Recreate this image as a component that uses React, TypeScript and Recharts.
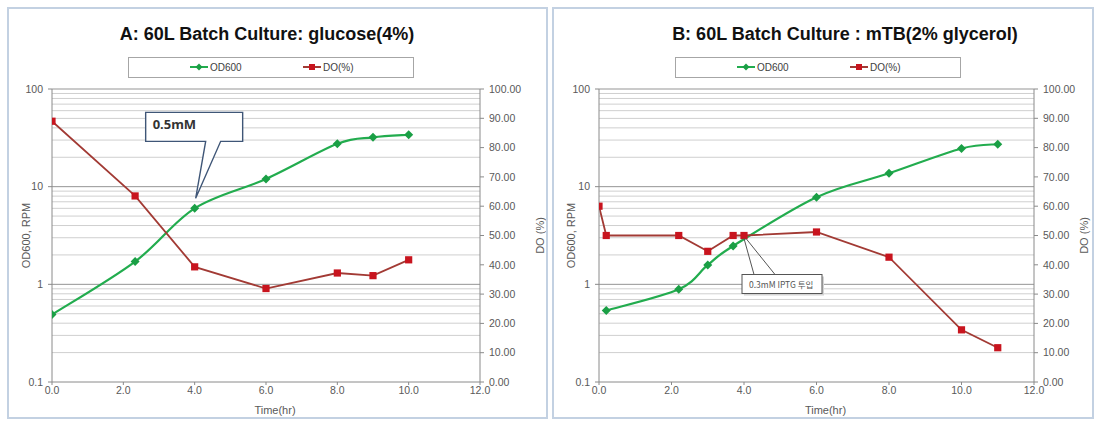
import React from 'react';
import { LineChart, Line, XAxis, YAxis, ReferenceLine, ReferenceDot } from 'recharts';

// shared axis ticks
const timeTicks = [0, 2, 4, 6, 8, 10, 12];
const odTicks = [0.1, 1, 10, 100];
const doTicks = [0, 10, 20, 30, 40, 50, 60, 70, 80, 90, 100];
const odMajorLines = [1, 10, 100];
const odMinorLines = [0.2, 0.3, 0.4, 0.5, 0.6, 0.7, 0.8, 0.9, 2, 3, 4, 5, 6, 7, 8, 9, 20, 30, 40, 50, 60, 70, 80, 90];

// A: glucose(4%)
const hoursA = [0, 2.33, 4, 6, 8, 9, 10];
const odA = [0.49, 1.71, 6.0, 12.0, 27.5, 32, 34];
const doA = [89, 63.5, 39.3, 31.9, 37.2, 36.3, 41.7];

// B: mTB(2% glycerol)
const odHoursB = [0.2, 2.2, 3.0, 3.7, 6.0, 8.0, 10.0, 11.0];
const odB = [0.54, 0.89, 1.58, 2.47, 7.8, 13.7, 24.6, 27.2];
const doHoursB = [0, 0.2, 2.2, 3.0, 3.7, 4.0, 6.0, 8.0, 10.0, 11.0];
const doB = [60, 50, 50, 44.6, 50, 50, 51.2, 42.6, 17.8, 11.7];

const GREEN = '#22ac4e';
const GREEN_DOT = '#1a9f45';
const RED = '#a23a34';
const RED_DOT = '#c8141e';
const AXIS = '#8a8a8a';
const TICK = '#595959';
const FONT = '"Liberation Sans", Arial, sans-serif';

const toSeries = (hours: number[], values: number[]) => hours.map((t, i) => ({ t, v: values[i] }));

// Catmull-Rom style smoothing (spreadsheet "smoothed line"), as a d3 curve factory
const smoothCurve = (context: any) => {
  let pts: [number, number][] = [];
  return {
    areaStart() {},
    areaEnd() {},
    lineStart() { pts = []; },
    point(x: number, y: number) { pts.push([+x, +y]); },
    lineEnd() {
      if (!pts.length) return;
      context.moveTo(pts[0][0], pts[0][1]);
      for (let i = 0; i < pts.length - 1; i++) {
        const p0 = pts[i - 1] || pts[i];
        const p1 = pts[i];
        const p2 = pts[i + 1];
        const p3 = pts[i + 2] || p2;
        context.bezierCurveTo(
          p1[0] + (p2[0] - p0[0]) / 6, p1[1] + (p2[1] - p0[1]) / 6,
          p2[0] - (p3[0] - p1[0]) / 6, p2[1] - (p3[1] - p1[1]) / 6,
          p2[0], p2[1],
        );
      }
    },
  };
};

const DiamondDot = (props: any) => {
  const { cx, cy, index } = props;
  if (cx == null || cy == null) return <g key={`d-${index}`} />;
  const r = 4.5;
  return (
    <path
      key={`d-${index}`}
      d={`M${cx},${cy - r}L${cx + r},${cy}L${cx},${cy + r}L${cx - r},${cy}Z`}
      fill={GREEN_DOT}
    />
  );
};

const SquareDot = (props: any) => {
  const { cx, cy, index } = props;
  if (cx == null || cy == null) return <g key={`s-${index}`} />;
  const h = 3.6;
  return <rect key={`s-${index}`} x={cx - h} y={cy - h} width={h * 2} height={h * 2} fill={RED_DOT} />;
};

const AxisTitle = (props: any) => {
  const { viewBox, text, mode, dx = 0, dy = 0 } = props;
  if (!viewBox) return null;
  const { x, y, width, height } = viewBox;
  if (mode === 'x') {
    return (
      <text x={x + width / 2 + dx} y={y + dy} textAnchor="middle" dominantBaseline="central"
        fontSize={11} fill={TICK} fontFamily={FONT}>{text}</text>
    );
  }
  const tx = x + dx;
  const ty = y + height / 2;
  return (
    <text x={tx} y={ty} textAnchor="middle" dominantBaseline="central" fontSize={11} fill={TICK}
      fontFamily={FONT} transform={`rotate(-90, ${tx}, ${ty})`}>{text}</text>
  );
};

// speech-bubble note pointing at the OD reading
const DoseCallout = (props: any) => {
  const { cx, cy } = props;
  if (cx == null || cy == null) return <g />;
  const L = cx - 49, R = cx + 48, T = cy - 96, B = cy - 67;
  const d = `M${L},${T}H${R}V${B}H${cx + 26}L${cx + 1},${cy - 10}L${cx + 11},${B}H${L}Z`;
  return (
    <g>
      <path d={d} fill="#ffffff" stroke="#3f5677" strokeWidth={1.4} />
      <text x={L + 7} y={T + 17} fontSize={13} fontWeight="bold" fill="#333"
        fontFamily='"Noto Sans", sans-serif'>0.5mM</text>
    </g>
  );
};

// IPTG induction note under the DO point
const IptgCallout = (props: any) => {
  const { cx, cy } = props;
  if (cx == null || cy == null) return <g />;
  const L = cx - 2, T = cy + 39, W = 80, H = 19;
  return (
    <g>
      <line x1={cx} y1={cy + 3} x2={cx + 10} y2={T} stroke="#555" strokeWidth={1} />
      <line x1={cx + 2} y1={cy + 3} x2={cx + 31} y2={T} stroke="#555" strokeWidth={1} />
      <rect x={L + 2} y={T + 2} width={W} height={H} fill="#d4d4d4" />
      <rect x={L} y={T} width={W} height={H} fill="#ffffff" stroke="#555" strokeWidth={1} />
      <text x={L + 7} y={T + 13} fontSize={8.5} fill="#555"
        fontFamily='"Noto Sans CJK KR", "Noto Sans", sans-serif'>0.3mM IPTG 투입</text>
    </g>
  );
};

const LegendBox = ({ left }: { left: number }) => (
  <div style={{
    position: 'absolute', left, top: 48, width: 286, height: 21, border: '1px solid #a6a6a6',
    boxSizing: 'border-box', background: '#fff', fontFamily: FONT, fontSize: 10, color: '#404040',
  }}>
    <div style={{ position: 'absolute', left: 60, top: 3, display: 'flex', alignItems: 'center' }}>
      <svg width={20} height={12}>
        <line x1={1} y1={6} x2={19} y2={6} stroke={GREEN} strokeWidth={2} />
        <path d="M10,2.5L13.5,6L10,9.5L6.5,6Z" fill={GREEN_DOT} />
      </svg>
      <span style={{ marginLeft: 1 }}>OD600</span>
    </div>
    <div style={{ position: 'absolute', left: 173, top: 3, display: 'flex', alignItems: 'center' }}>
      <svg width={20} height={12}>
        <line x1={1} y1={6} x2={19} y2={6} stroke={RED} strokeWidth={2} />
        <rect x={7} y={3} width={6} height={6} fill={RED_DOT} />
      </svg>
      <span style={{ marginLeft: 1 }}>DO(%)</span>
    </div>
  </div>
);

interface PanelProps {
  left: number;
  width: number;
  title: string;
  titleCenter: number;
  yLeftWidth: number;
  yRightWidth: number;
  doTitleDx: number;
  xTitleDx: number;
  legendLeft: number;
  odData: { t: number; v: number }[];
  doData: { t: number; v: number }[];
  callout: React.ReactNode;
}

const Panel = (p: PanelProps) => {
  const inner = p.width - 4;
  return (
    <div style={{
      position: 'absolute', left: p.left, top: 7, width: p.width, height: 412,
      border: '2px solid #c3d1e2', boxSizing: 'border-box', background: '#fff',
    }}>
      <div style={{
        position: 'absolute', left: p.titleCenter - 250, width: 500, top: 13, textAlign: 'center',
        fontFamily: FONT, fontWeight: 'bold', fontSize: 18, color: '#111', lineHeight: '24px',
      }}>{p.title}</div>
      <LegendBox left={p.legendLeft} />
      <div style={{ position: 'absolute', left: 0, top: 0 }}>
        <LineChart width={inner} height={408} margin={{ top: 80, right: 0, bottom: 0, left: 0 }}>
          <XAxis dataKey="t" type="number" domain={[0, 12]} ticks={timeTicks} allowDataOverflow
            tickFormatter={(v: number) => v.toFixed(1)} height={35}
            axisLine={{ stroke: AXIS }} tickLine={{ stroke: AXIS }} tickSize={3} tickMargin={2}
            tick={{ fill: TICK, fontSize: 10.5, fontFamily: FONT }}
            label={<AxisTitle mode="x" text="Time(hr)" dx={p.xTitleDx} dy={28} />} />
          <YAxis yAxisId="od" scale="log" domain={[0.1, 100]} ticks={odTicks} allowDataOverflow
            tickFormatter={(v: number) => String(v)} width={p.yLeftWidth}
            axisLine={{ stroke: AXIS }} tickLine={{ stroke: AXIS }} tickSize={4} tickMargin={5}
            tick={{ fill: TICK, fontSize: 10.5, fontFamily: FONT }}
            label={<AxisTitle mode="y" text="OD600, RPM" dx={17} />} />
          <YAxis yAxisId="do" orientation="right" domain={[0, 100]} ticks={doTicks} allowDataOverflow
            tickFormatter={(v: number) => v.toFixed(2)} width={p.yRightWidth}
            axisLine={{ stroke: AXIS }} tickLine={{ stroke: AXIS }} tickSize={4} tickMargin={5}
            tick={{ fill: TICK, fontSize: 10.5, fontFamily: FONT }}
            label={<AxisTitle mode="y" text="DO (%)" dx={p.doTitleDx} />} />
          {odMinorLines.map((v) => (
            <ReferenceLine key={`mi-${v}`} yAxisId="od" y={v} stroke="#cfcfcf" strokeWidth={1} />
          ))}
          {odMajorLines.map((v) => (
            <ReferenceLine key={`ma-${v}`} yAxisId="od" y={v} stroke="#959595" strokeWidth={1} />
          ))}
          <Line yAxisId="od" data={p.odData} dataKey="v" type={smoothCurve as any} stroke={GREEN} strokeWidth={2.2}
            dot={DiamondDot} activeDot={false} isAnimationActive={false} />
          <Line yAxisId="do" data={p.doData} dataKey="v" type="linear" stroke={RED} strokeWidth={1.8}
            dot={SquareDot} activeDot={false} isAnimationActive={false} />
          {p.callout}
        </LineChart>
      </div>
    </div>
  );
};

export default function App() {
  return (
    <div style={{ position: 'relative', width: 1095, height: 421, background: '#fff', overflow: 'hidden' }}>
      <style>{'body{margin:0}'}</style>
      <Panel
        left={7} width={541}
        title="A: 60L Batch Culture: glucose(4%)" titleCenter={258}
        yLeftWidth={43} yRightWidth={66} doTitleDx={60} xTitleDx={9} legendLeft={119}
        odData={toSeries(hoursA, odA)} doData={toSeries(hoursA, doA)}
        callout={<ReferenceDot yAxisId="od" x={4} y={odA[2]} ifOverflow="visible" shape={DoseCallout} />}
      />
      <Panel
        left={552} width={542}
        title="B: 60L Batch Culture : mTB(2% glycerol)" titleCenter={291}
        yLeftWidth={45} yRightWidth={58} doTitleDx={50} xTitleDx={9} legendLeft={121}
        odData={toSeries(odHoursB, odB)} doData={toSeries(doHoursB, doB)}
        callout={<ReferenceDot yAxisId="do" x={4} y={doB[5]} ifOverflow="visible" shape={IptgCallout} />}
      />
    </div>
  );
}
